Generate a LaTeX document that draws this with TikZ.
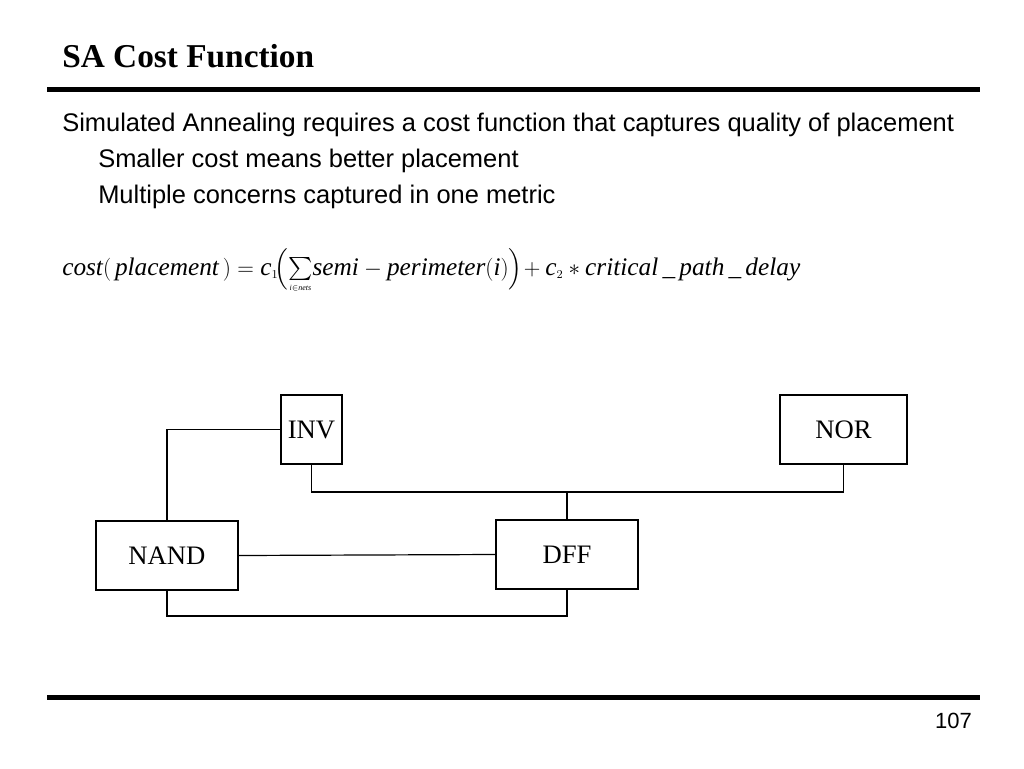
\documentclass[tikz,border=0pt]{standalone}
\usepackage{amsmath}
\usepackage{fontspec}
\setmainfont{Liberation Serif}
\setsansfont{Liberation Sans}
\usepackage{graphicx}
\newcommand{\iw}[1]{\mbox{\itshape #1}}
\tikzset{
  gate/.style={draw, line width=0.9pt, fill=white, inner sep=0pt,
    font=\fontsize{20}{24}\selectfont},
  wire/.style={line width=0.9pt},
  rulebar/.style={line width=3.75pt},
  bodytext/.style={anchor=base west, inner sep=0pt, font=\sffamily\fontsize{19.1}{23}\selectfont}
}
\begin{document}
\begin{tikzpicture}[x=0.75pt,y=-0.75pt]
\useasboundingbox (0,0) rectangle (1024,768);
% title
\node[anchor=base west, inner sep=0pt, font=\bfseries\fontsize{25}{30}\selectfont] (title) at (62,67) {SA Cost Function};
\draw[rulebar] (47,89.5) -- (980,89.5);
% bullets
\node[bodytext] (l1) at (62,131) {Simulated Annealing requires a cost function that captures quality of placement};
\node[bodytext] (l2) at (98,167) {Smaller cost means better placement};
\node[bodytext] (l3) at (98,203) {Multiple concerns captured in one metric};
% formula
\node[anchor=base west, inner sep=0pt, font=\fontsize{19}{23}\selectfont] (formula) at (62,275) {\resizebox{553.5pt}{!}{$\iw{cost}(\,\iw{placement}\,) = \iw{c}_{\scriptscriptstyle 1}\!\Bigl(\mathop{\textstyle\sum}\limits_{\raisebox{3pt}{\fontsize{6}{6}\selectfont\itshape i$\in$nets}}\!\iw{semi} - \iw{perimeter}(\iw{i})\Bigr)\!+ \iw{c}_{\scriptscriptstyle 2} * \iw{critical\,\_\,path\,\_\,delay}$}};
% gates
\node[gate, minimum width=45.75pt, minimum height=51.75pt] (INV) at (311.5,429.5) {INV};
\node[gate, minimum width=95.25pt, minimum height=51.75pt] (NOR) at (843.5,429.5) {NOR};
\node[gate, minimum width=106.5pt, minimum height=51.75pt] (NAND) at (167,555.5) {NAND};
\node[gate, minimum width=106.5pt, minimum height=51.75pt] (DFF) at (567,554.5) {DFF};
\coordinate (j) at (567,492);
\coordinate (k) at (567,616);
\draw[wire] (INV.west) -| (NAND.north);
\draw[wire] (INV.south) |- (j) -| (NOR.south);
\draw[wire] (j) -- (DFF.north);
\draw[wire] (NAND.east) -- (DFF.west);
\draw[wire] (NAND.south) |- (k) -- (DFF.south);
% footer
\draw[rulebar] (47,697.5) -- (980,697.5);
\node[anchor=base east, inner sep=0pt, font=\sffamily\fontsize{16.5}{20}\selectfont] (page) at (972,728) {107};
\end{tikzpicture}
\end{document}
